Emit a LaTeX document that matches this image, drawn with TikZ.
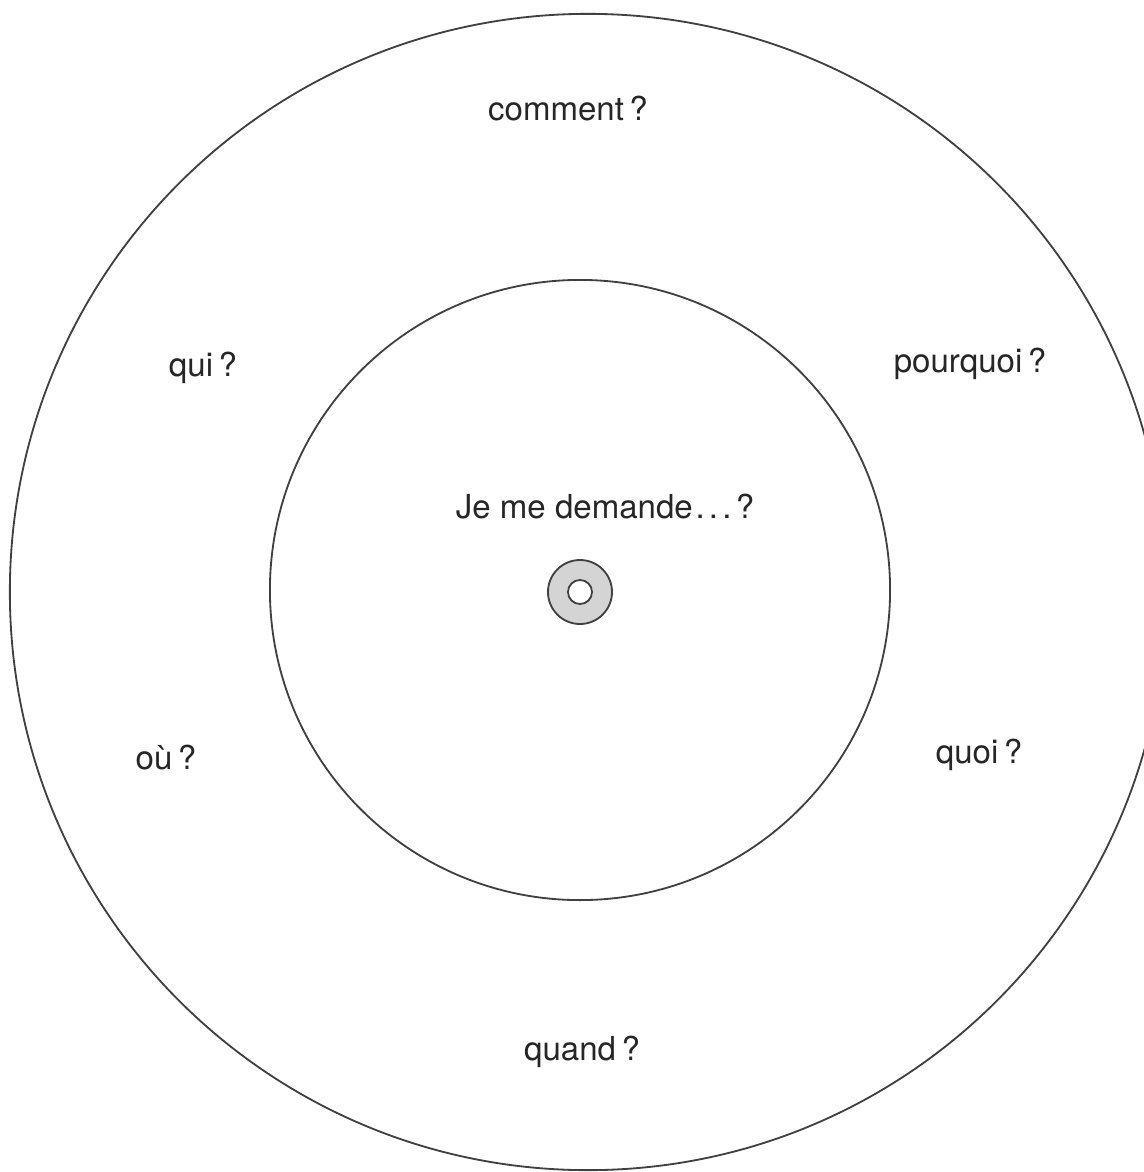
\documentclass[tikz,border=0pt]{standalone}
\usepackage{fontspec}
\setmainfont{TeX Gyre Heros}
\begin{document}
\begin{tikzpicture}[
    x=0.025cm, y=-0.025cm,
    ring/.style={draw=black!75, line width=1.3pt, circle, inner sep=0pt, minimum size=#1},
    word/.style={text=black!85, font=\fontsize{23.5}{28}\selectfont},
]
\useasboundingbox (0,0) rectangle (1144,1172);
\clip (0,0) rectangle (1144,1172);

% Circles
\node[ring=28.9cm] (outer) at (588,592) {};
\node[ring=15.5cm] (inner) at (580,590) {};
\node[ring=1.6cm, fill=black!17] (hub) at (580,592) {};
\node[ring=0.6cm, fill=white] (hole) at (580,592) {};

% Centre
\node[word] (ask) at (605,507) {Je me demande\kern2pt.\kern3pt.\kern3pt.\kern3pt?};

% Questions
\node[word] (comment) at (568,108) {comment\,?};
\node[word] (qui) at (203,368) {qui\,?};
\node[word] (pourquoi) at (970,364) {pourquoi\,?};
\node[word] (ou) at (166,757) {où\,?};
\node[word] (quoi) at (979,755) {quoi\,?};
\node[word] (quand) at (582,1052) {quand\,?};
\end{tikzpicture}
\end{document}
